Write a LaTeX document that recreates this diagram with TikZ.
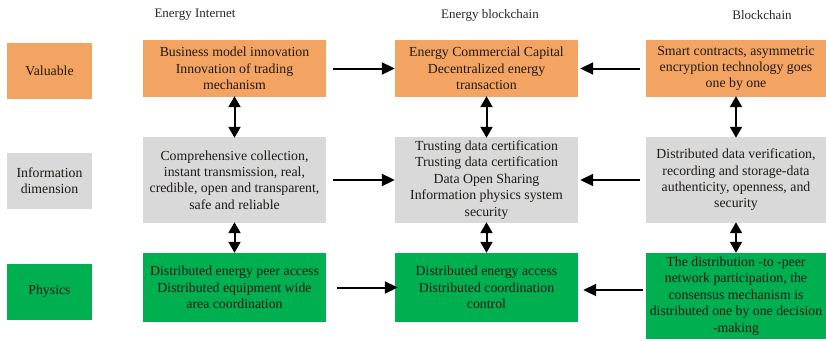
\documentclass[tikz,border=0pt]{standalone}
\usepackage{fontspec}
\setmainfont{Liberation Serif}
\usetikzlibrary{arrows.meta,calc}
\definecolor{valorange}{RGB}{244,164,98}
\definecolor{infogray}{RGB}{217,217,217}
\definecolor{phygreen}{RGB}{0,176,80}
\definecolor{boxtext}{RGB}{30,25,20}
\begin{document}
\begin{tikzpicture}[x=1pt,y=-1pt,
  cell/.style={inner sep=0pt, align=center, text=boxtext,
    font=\fontsize{13.8}{16.4}\selectfont},
  side/.style={cell, minimum width=85pt, minimum height=56pt},
  wide/.style={cell, minimum width=183pt},
  head/.style={font=\fontsize{13}{15}\selectfont, text=black!85},
  val/.style={fill=valorange},
  info/.style={fill=infogray},
  phy/.style={fill=phygreen},
  arr/.style={line width=2pt, -{Triangle[length=13pt,width=12pt]}},
  biarr/.style={line width=2pt, {Triangle[length=11pt,width=12pt]}-{Triangle[length=11pt,width=12pt]}}
]
\useasboundingbox (0,0) rectangle (826,340);

% column headings
\node[head] (h1) at (195,15) {Energy Internet};
\node[head] (h2) at (490,15) {Energy blockchain};
\node[head] (h3) at (762,15) {Blockchain};

% row labels
\node[side,val]  (lv) at (49.5,71)   {Valuable};
\node[side,info] (li) at (49.5,181)  {Information\\dimension};
\node[side,phy]  (lp) at (49.5,291.5) {Physics};

% value row
\node[wide,val,minimum height=57pt] (a1) at (234.5,68.5)
  {Business model innovation\\Innovation of trading\\mechanism};
\node[wide,val,minimum height=57pt] (b1) at (486.5,68.5)
  {Energy Commercial Capital\\Decentralized energy\\transaction};
\node[wide,val,minimum height=57pt,minimum width=180pt] (c1) at (736,68.5)
  {Smart contracts, asymmetric\\encryption technology goes\\one by one};

% information row
\node[wide,info,minimum height=86pt] (a2) at (234.5,180)
  {Comprehensive collection,\\instant transmission, real,\\credible, open and transparent,\\safe and reliable};
\node[wide,info,minimum height=86pt] (b2) at (486.5,180)
  {Trusting data certification\\Trusting data certification\\Data Open Sharing\\Information physics system\\security};
\node[wide,info,minimum height=86pt,minimum width=180pt] (c2) at (736,180)
  {Distributed data verification,\\recording and storage-data\\authenticity, openness, and\\security};

% physical row
\node[wide,phy,minimum height=69pt] (a3) at (234.5,287.5)
  {Distributed energy peer access\\Distributed equipment wide\\area coordination};
\node[wide,phy,minimum height=69pt] (b3) at (486.5,287.5)
  {Distributed energy access\\Distributed coordination\\control};
\node[wide,phy,minimum height=86pt,minimum width=180pt] (c3) at (736,296)
  {The distribution -to -peer\\network participation, the\\consensus mechanism is\\distributed one by one decision\\-making};

% horizontal flows into the middle column
\draw[arr,shorten <=7pt] (a1.east) -- (b1.west);
\draw[arr,shorten <=6pt,shorten >=2pt] (c1.west) -- (b1.east);
\draw[arr,shorten <=7pt] (a2.east) -- (b2.west);
\draw[arr,shorten <=6pt,shorten >=2pt] (c2.west) -- (b2.east);
\draw[arr,shorten <=11pt,shorten >=-3pt] (a3.east) -- (b3.west);
\draw[arr,shorten <=3pt,shorten >=5pt] (c3.west |- 0,290) -- (b3.east |- 0,290);

% vertical links between rows
\foreach \u/\l in {a1/a2,b1/b2,c1/c2}
  \draw[biarr] ([yshift=1pt]\u.south) -- ([yshift=-1pt]\l.north);
\draw[biarr] ([yshift=1pt]a2.south) -- (a3.north);
\draw[biarr] ([yshift=1pt]b2.south) -- (b3.north);
\draw[biarr] ([yshift=1pt]c2.south) -- (c3.north);
\end{tikzpicture}
\end{document}
